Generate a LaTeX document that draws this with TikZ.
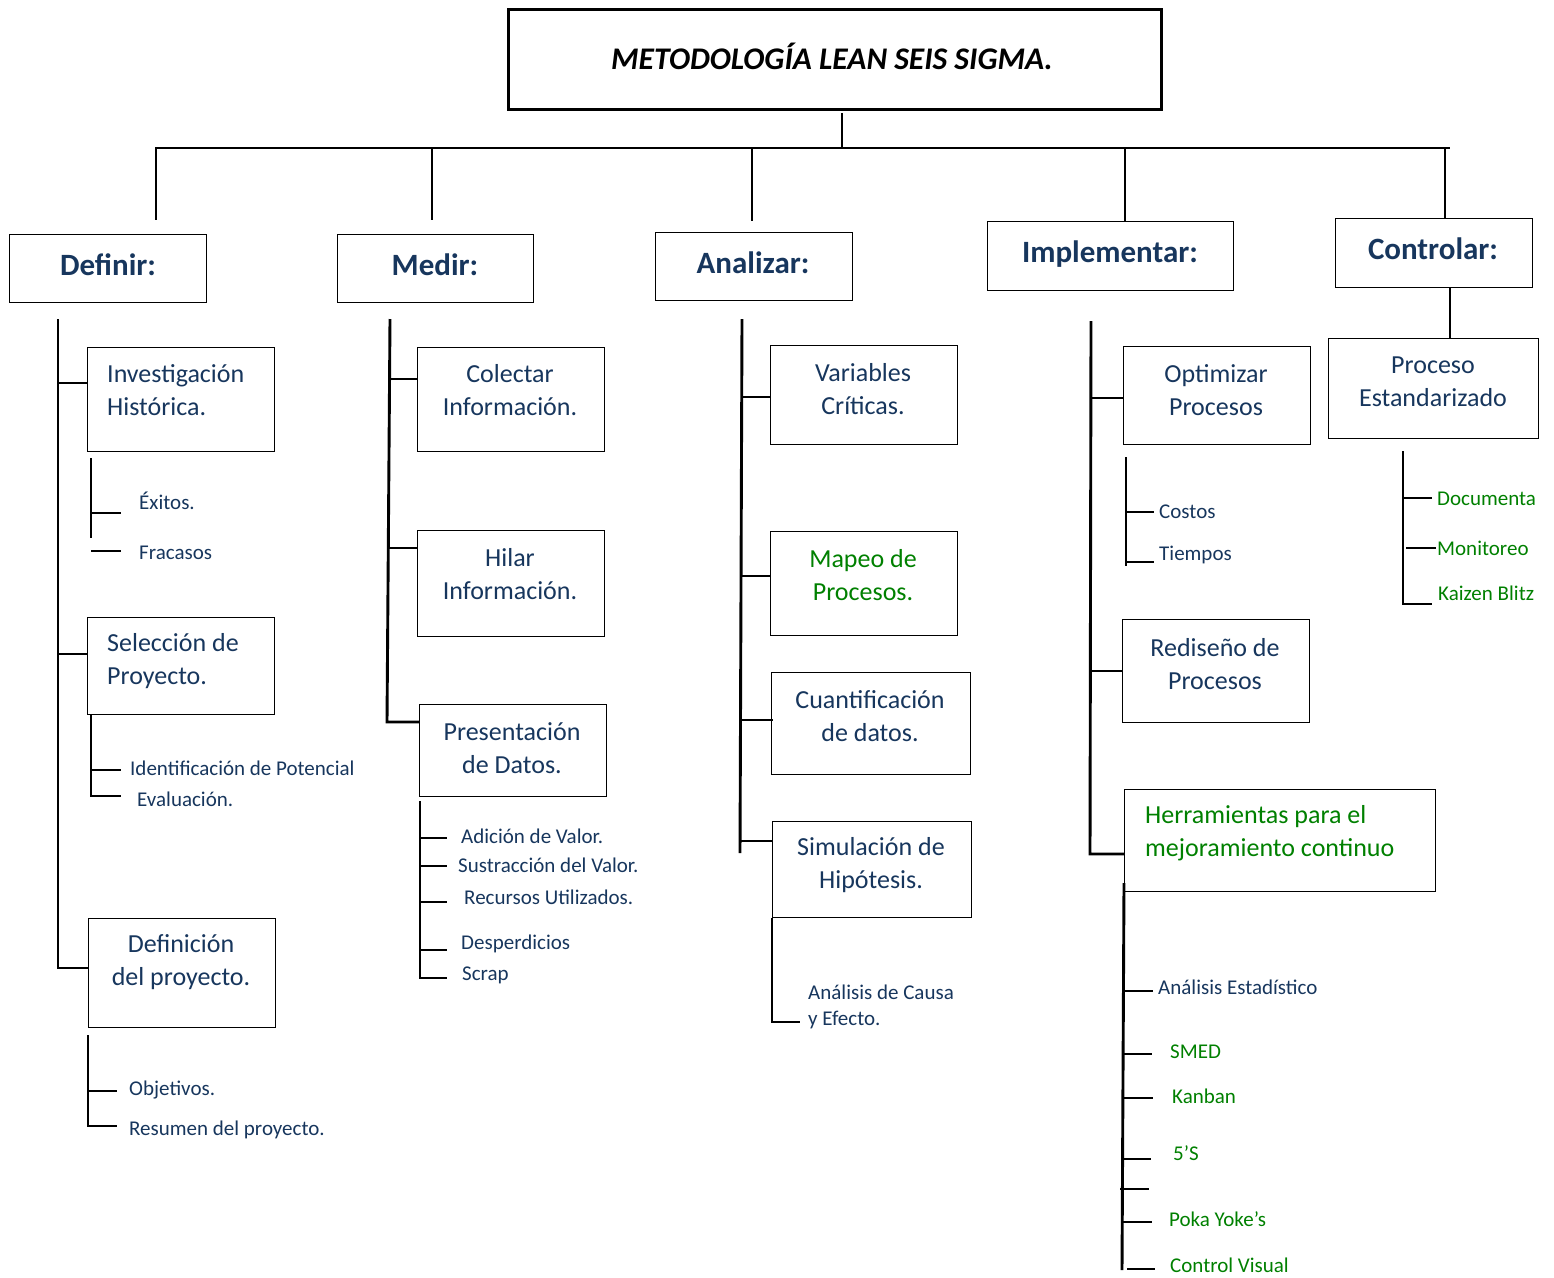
\documentclass[tikz,border=0pt]{standalone}
\usepackage{fontspec}
\setmainfont{Carlito}
\definecolor{navy}{RGB}{23,54,93}
\definecolor{grn}{RGB}{0,128,0}
\begin{document}
\begin{tikzpicture}[x=1pt,y=-1pt,
  tree/.style={line width=2.9pt},
  box/.style={draw, line width=1.4pt, inner sep=0pt, anchor=north west},
  bigtxt/.style={font=\fontsize{26}{33}\selectfont, text=navy, inner sep=0pt, align=center},
  bigleft/.style={bigtxt, align=left, anchor=west},
  small/.style={font=\fontsize{21}{25}\selectfont, text=navy, inner sep=0pt, anchor=base west},
  head/.style={font=\fontsize{31}{36}\selectfont\bfseries, text=navy, inner sep=0pt, anchor=base}]
\useasboundingbox (0,0) rectangle (1554,1277);

% ---------- boxes ----------
\node[box, line width=2.9pt, minimum width=653pt, minimum height=100pt] (title) at (507,8) {};
\node[box, minimum width=197pt, minimum height=68pt] (def) at (9,234) {};
\node[box, minimum width=196pt, minimum height=68pt] (med) at (337,234) {};
\node[box, minimum width=197pt, minimum height=68pt] (ana) at (655,232) {};
\node[box, minimum width=246pt, minimum height=69pt] (imp) at (987,221) {};
\node[box, minimum width=197pt, minimum height=69pt] (con) at (1335,218) {};
\node[box, minimum width=210pt, minimum height=100pt] (pro) at (1328,338) {};
\node[box, minimum width=187pt, minimum height=104pt] (inv) at (87,347) {};
\node[box, minimum width=187pt, minimum height=97pt] (sel) at (87,617) {};
\node[box, minimum width=187pt, minimum height=109pt] (dfp) at (88,918) {};
\node[box, minimum width=187pt, minimum height=104pt] (col) at (417,347) {};
\node[box, minimum width=187pt, minimum height=106pt] (hil) at (417,530) {};
\node[box, minimum width=187pt, minimum height=92pt] (pre) at (419,704) {};
\node[box, minimum width=187pt, minimum height=99pt] (var) at (770,345) {};
\node[box, minimum width=187pt, minimum height=104pt] (map) at (770,531) {};
\node[box, minimum width=199pt, minimum height=102pt] (cua) at (771,672) {};
\node[box, minimum width=199pt, minimum height=96pt] (sim) at (772,821) {};
\node[box, minimum width=187pt, minimum height=98pt] (opt) at (1123,346) {};
\node[box, minimum width=187pt, minimum height=103pt] (red) at (1122,619) {};
\node[box, minimum width=311pt, minimum height=102pt] (her) at (1124,789) {};

% ---------- texts in boxes ----------
\node[inner sep=0pt, anchor=base, font=\fontsize{31.5}{36}\selectfont\bfseries\itshape] (titleT) at (832,69) {METODOLOGÍA LEAN SEIS SIGMA.};
\node[head] (defT) at (108,275) {Definir:};
\node[head] (medT) at (435,275) {Medir:};
\node[head] (anaT) at (753,273) {Analizar:};
\node[head] (impT) at (1110,262) {Implementar:};
\node[head] (conT) at (1433,259) {Controlar:};

\node[bigleft] (invT) at (107,390) {Investigación\\Histórica.};
\node[bigleft] (selT) at (107,661) {Selección de\\Proyecto.};
\node[bigtxt] (dfpT) at (181,962) {Definición\\del proyecto.};
\node[bigtxt] (colT) at (510,390) {Colectar\\Información.};
\node[bigtxt] (hilT) at (510,574) {Hilar\\Información.};
\node[bigtxt] (preT) at (512,748) {Presentación\\de Datos.};
\node[bigtxt] (varT) at (863,389) {Variables\\Críticas.};
\node[bigtxt, text=grn] (mapT) at (863,575) {Mapeo de\\Procesos.};
\node[bigtxt] (cuaT) at (870,716) {Cuantificación\\de datos.};
\node[bigtxt] (simT) at (871,865) {Simulación de\\Hipótesis.};
\node[bigtxt] (optT) at (1216,390) {Optimizar\\Procesos};
\node[bigtxt] (redT) at (1215,664) {Rediseño de\\Procesos};
\node[bigleft, text=grn] (herT) at (1145,833) {Herramientas para el\\mejoramiento continuo};
\node[bigtxt] (proT) at (1433,382) {Proceso\\Estandarizado};

% ---------- small texts ----------
\node[small] (s1) at (139,509) {Éxitos.};
\node[small] (s2) at (139,559) {Fracasos};
\node[small] (s3) at (130,775) {Identificación de Potencial};
\node[small] (s4) at (137,806) {Evaluación.};
\node[small] (s5) at (129,1095) {Objetivos.};
\node[small] (s6) at (129,1135) {Resumen del proyecto.};
\node[small] (m1) at (461,843) {Adición de Valor.};
\node[small] (m2) at (458,872) {Sustracción del Valor.};
\node[small] (m3) at (464,904) {Recursos Utilizados.};
\node[small] (m4) at (461,949) {Desperdicios};
\node[small] (m5) at (462,980) {Scrap};
\node[small] (a1) at (808,999) {Análisis de Causa};
\node[small] (a2) at (808,1025) {y Efecto.};
\node[small] (i1) at (1159,518) {Costos};
\node[small] (i2) at (1159,560) {Tiempos};
\node[small] (h1) at (1158,994) {Análisis Estadístico};
\node[small, text=grn] (h2) at (1170,1058) {SMED};
\node[small, text=grn] (h3) at (1172,1103) {Kanban};
\node[small, text=grn] (h4) at (1173,1160) {5’S};
\node[small, text=grn] (h5) at (1169,1226) {Poka Yoke’s};
\node[small, text=grn] (h6) at (1170,1272) {Control Visual};
\node[small, text=grn] (c1) at (1437,505) {Documenta};
\node[small, text=grn] (c2) at (1437,555) {Monitoreo};
\node[small, text=grn] (c3) at (1438,600) {Kaizen Blitz};

% ---------- top tree ----------
\coordinate (rootTop) at (842,113);
\coordinate (bar) at (842,148);
\coordinate (barL) at (155,148);
\coordinate (barR) at (1450,148);
\draw[tree] (rootTop) -- (bar);
\draw[tree] (barL) -- (barR);
\draw[tree] (barL -| 156,0) -- (156,220);
\draw[tree] (barL -| 432,0) -- (432,220);
\draw[tree] (barL -| 752,0) -- (752,221);
\draw[tree] (barL -| 1125,0) -- (imp.north -| 1125,0);
\draw[tree] (barL -| 1445,0) -- (con.north -| 1445,0);
\draw[tree] (con.south -| 1450,0) -- (pro.north -| 1450,0);

% ---------- Definir ----------
\coordinate (dTop) at (58,319);
\draw[tree] (dTop) -- (58,968) -- (dfp.west |- 0,968);
\draw[tree] (58,383) -- (inv.west |- 0,383);
\draw[tree] (58,654) -- (sel.west |- 0,654);
\draw[tree] (91,458) -- (91,538);
\draw[tree] (91,513) -- (121,513);
\draw[tree] (91,551) -- (121,551);
\draw[tree] (sel.south -| 91,0) -- (91,796) -- (121,796);
\draw[tree] (91,770) -- (121,770);
\draw[tree] (88,1035) -- (88,1126) -- (117,1126);
\draw[tree] (88,1091) -- (117,1091);

% ---------- Medir ----------
\coordinate (mTop) at (390,319);
\draw[tree] (mTop) -- (387,722) -- (pre.west |- 0,722);
\draw[tree] (389,379) -- (col.west |- 0,379);
\draw[tree] (388,548) -- (hil.west |- 0,548);
\draw[tree] (420,801) -- (420,978) -- (447,978);
\foreach \yy in {838,866,902,950} \draw[tree] (420,\yy) -- (447,\yy);

% ---------- Analizar ----------
\coordinate (aTop) at (742,319);
\draw[tree] (aTop) -- (740,853);
\draw[tree] (742,397) -- (var.west |- 0,397);
\draw[tree] (741,576) -- (map.west |- 0,576);
\draw[tree] (741,720) -- (773,720);
\draw[tree] (741,841) -- (sim.west |- 0,841);
\draw[tree] (sim.south -| 772,0) -- (772,1022) -- (800,1022);

% ---------- Implementar ----------
\coordinate (iTop) at (1091,321);
\draw[tree] (iTop) -- (1090,854) -- (her.west |- 0,854);
\draw[tree] (1091,398) -- (opt.west |- 0,398);
\draw[tree] (1091,671) -- (red.west |- 0,671);
\draw[tree] (1126,457) -- (1126,566);
\draw[tree] (1126,512) -- (1154,512);
\draw[tree] (1126,562) -- (1154,562);
\draw[tree] (1124,883) -- (1122,1270);
\draw[tree] (1124,991) -- (1153,991);
\draw[tree] (1123,1054) -- (1152,1054);
\draw[tree] (1123,1098) -- (1153,1098);
\draw[tree] (1122,1159) -- (1151,1159);
\draw[tree] (1120,1189) -- (1149,1189);
\draw[tree] (1123,1222) -- (1152,1222);
\draw[tree] (1127,1269) -- (1155,1269);

% ---------- Controlar ----------
\draw[tree] (1403,451) -- (1403,604) -- (1432,604);
\draw[tree] (1403,498) -- (1432,498);
\draw[tree] (1406,548) -- (1436,548);
\end{tikzpicture}
\end{document}
